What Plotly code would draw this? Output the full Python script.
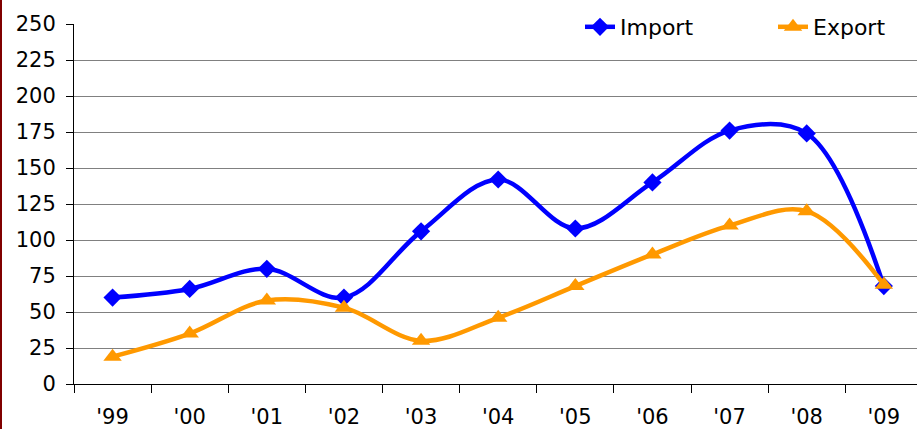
import plotly.graph_objects as go

years = ["'99", "'00", "'01", "'02", "'03", "'04", "'05", "'06", "'07", "'08", "'09"]
import_vals = [60, 66, 80, 60, 106, 142, 108, 140, 176, 174, 68]
export_vals = [19, 35, 58, 53, 30, 46, 68, 90, 110, 120, 69]
y_ticks = [0, 25, 50, 75, 100, 125, 150, 175, 200, 225, 250]

FONT = "DejaVu Sans"

fig = go.Figure()
fig.add_trace(go.Scatter(
    x=years, y=import_vals, name="Import", mode="lines+markers",
    line=dict(color="#0000FF", width=4.5, shape="spline", smoothing=1),
    marker=dict(symbol="diamond", size=14, color="#0000FF"),
))
fig.add_trace(go.Scatter(
    x=years, y=export_vals, name="Export", mode="lines+markers",
    line=dict(color="#FF9900", width=4.5, shape="spline", smoothing=1),
    marker=dict(symbol="triangle-up", size=16, color="#FF9900"),
))

fig.update_layout(
    width=917, height=429,
    margin=dict(l=74, r=0, t=24, b=45, autoexpand=False),
    paper_bgcolor="white", plot_bgcolor="white",
    font=dict(family=FONT, size=21, color="black"),
    showlegend=True,
    legend=dict(orientation="h", x=580 / 917, y=1 - 27 / 429,
                xref="container", yref="container",
                xanchor="left", yanchor="middle",
                bgcolor="white", font=dict(size=22, family=FONT),
                entrywidth=148, entrywidthmode="pixels", tracegroupgap=0),
    xaxis=dict(type="category", range=[-0.5, 10.43], tickson="boundaries",
               ticks="outside", ticklen=8, tickcolor="black", tickwidth=1,
               showline=True, linecolor="black", linewidth=1,
               showgrid=False, zeroline=False, fixedrange=True,
               automargin=False, ticklabelstandoff=14),
    yaxis=dict(range=[0, 250], tickvals=y_ticks,
               ticks="outside", ticklen=7, tickcolor="black", tickwidth=1,
               showline=True, linecolor="black", linewidth=1,
               showgrid=True, gridcolor="#808080", gridwidth=1,
               zeroline=False, fixedrange=True,
               automargin=False, ticklabelstandoff=6),
    shapes=[dict(type="line", xref="paper", yref="paper",
                 x0=-73/843, x1=-73/843, y0=-45/360, y1=1 + 24/360,
                 line=dict(color="#800000", width=2))],
)

fig.write_html("out.html", config={"displayModeBar": False},
               post_script="document.body.style.margin='0';document.body.style.overflow='hidden';")
